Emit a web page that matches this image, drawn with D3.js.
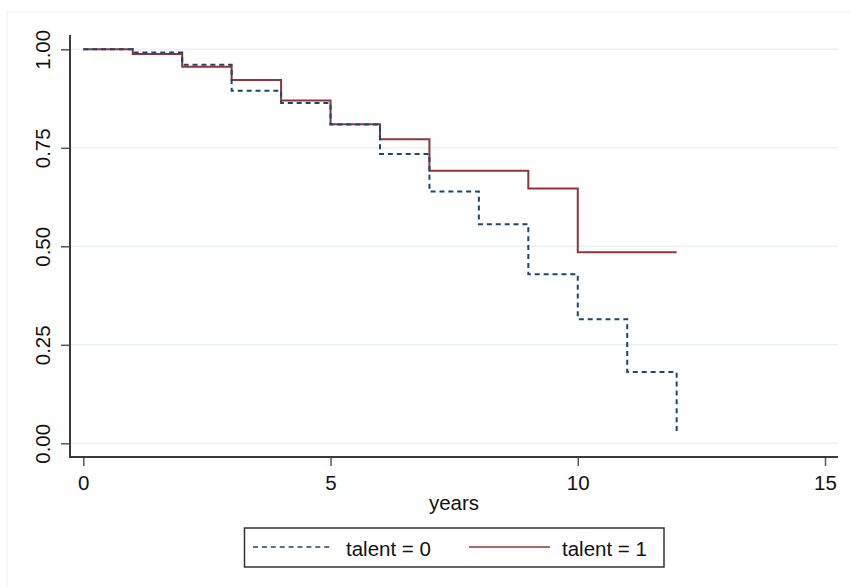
<!DOCTYPE html>
<html>
<head>
<meta charset="utf-8">
<script src="https://cdn.jsdelivr.net/npm/d3@7"></script>
<style>
  body { margin: 0; background: #fff; }
  text { font-family: "Liberation Sans", Arial, sans-serif; fill: #111; }
</style>
</head>
<body>
<div id="root"></div>
<script>
// Kaplan-Meier survival estimates
const times0 = [0, 1, 2, 3, 4, 5, 6, 7, 8, 9, 10, 11, 12];
const surv0 = [1.0, 0.992, 0.961, 0.895, 0.864, 0.809, 0.734, 0.639, 0.556, 0.429, 0.315, 0.181, 0.027];
const times1 = [0, 1, 2, 3, 4, 5, 6, 7, 8, 9, 10, 12];
const surv1 = [1.0, 0.988, 0.956, 0.922, 0.870, 0.810, 0.772, 0.692, 0.692, 0.647, 0.485, 0.485];
const xTicks = [0, 5, 10, 15];
const yTicks = [0, 0.25, 0.5, 0.75, 1];
const labels = ["talent = 0", "talent = 1"];

const width = 850, height = 587;
const plot = { left: 70, right: 838, top: 35, bottom: 457 };
const blue = "#1a476f", red = "#90353b";
const fs = "20.5px";

const svg = d3.select("#root").append("svg")
  .attr("width", width)
  .attr("height", height);

// faint outer region frame
svg.append("path")
  .attr("d", "M7," + height + "V12H" + width)
  .attr("fill", "none")
  .attr("stroke", "#eeeeee")
  .attr("stroke-width", 1);

const x = d3.scaleLinear().domain([0, 15]).range([83.3, 825]);
const y = d3.scaleLinear().domain([0, 1]).range([443.3, 49.3]);

// grid
svg.append("g").selectAll("line")
  .data(yTicks)
  .enter().append("line")
  .attr("x1", plot.left).attr("x2", plot.right)
  .attr("y1", d => y(d)).attr("y2", d => y(d))
  .attr("stroke", "#eaf1f3")
  .attr("stroke-width", 1.5);

// axes
const yAxis = svg.append("g")
  .attr("transform", "translate(" + plot.left + ",0)")
  .call(d3.axisLeft(y).tickValues(yTicks).tickFormat(d3.format(".2f")).tickSize(9).tickPadding(5));
yAxis.select(".domain").remove();
yAxis.selectAll(".tick line").attr("stroke", "#555").attr("stroke-width", 1.5);
yAxis.selectAll(".tick text")
  .attr("x", null).attr("dy", null)
  .attr("transform", "translate(-20.5,0) rotate(-90)")
  .attr("text-anchor", "middle")
  .style("font-size", fs);

const xAxis = svg.append("g")
  .attr("transform", "translate(0," + plot.bottom + ")")
  .call(d3.axisBottom(x).tickValues(xTicks).tickFormat(d3.format("d")).tickSize(9).tickPadding(5));
xAxis.select(".domain").remove();
xAxis.selectAll(".tick line").attr("stroke", "#555").attr("stroke-width", 1.5);
xAxis.selectAll(".tick text")
  .attr("dy", null).attr("y", 33)
  .style("font-size", fs);

svg.append("path")
  .attr("d", "M" + plot.left + "," + plot.top + "V" + plot.bottom + "H" + plot.right)
  .attr("fill", "none")
  .attr("stroke", "#3a3a3a")
  .attr("stroke-width", 2);

svg.append("text")
  .attr("x", (plot.left + plot.right) / 2)
  .attr("y", 510)
  .attr("text-anchor", "middle")
  .style("font-size", fs)
  .text("years");

// survival curves
const drawLine = d3.line()
  .x(d => x(d[0]))
  .y(d => y(d[1]))
  .curve(d3.curveStepAfter);

svg.append("path")
  .datum(d3.zip(times1, surv1))
  .attr("d", drawLine)
  .attr("fill", "none")
  .attr("stroke", red)
  .attr("stroke-width", 2);

svg.append("path")
  .datum(d3.zip(times0, surv0))
  .attr("d", drawLine)
  .attr("fill", "none")
  .attr("stroke", blue)
  .attr("stroke-width", 2)
  .attr("stroke-dasharray", "5,3.9");

// legend
const leg = svg.append("g");
leg.append("rect")
  .attr("x", 244.5).attr("y", 528)
  .attr("width", 419.5).attr("height", 39)
  .attr("fill", "#fff")
  .attr("stroke", "#333")
  .attr("stroke-width", 1.5);
leg.append("line")
  .attr("x1", 253).attr("x2", 333).attr("y1", 547).attr("y2", 547)
  .attr("stroke", blue).attr("stroke-width", 1.5).attr("stroke-dasharray", "5,3.9");
leg.append("text")
  .attr("x", 346).attr("y", 556)
  .style("font-size", fs)
  .text(labels[0]);
leg.append("line")
  .attr("x1", 469).attr("x2", 550).attr("y1", 547).attr("y2", 547)
  .attr("stroke", red).attr("stroke-width", 1.5);
leg.append("text")
  .attr("x", 562).attr("y", 556)
  .style("font-size", fs)
  .text(labels[1]);
</script>
</body>
</html>
